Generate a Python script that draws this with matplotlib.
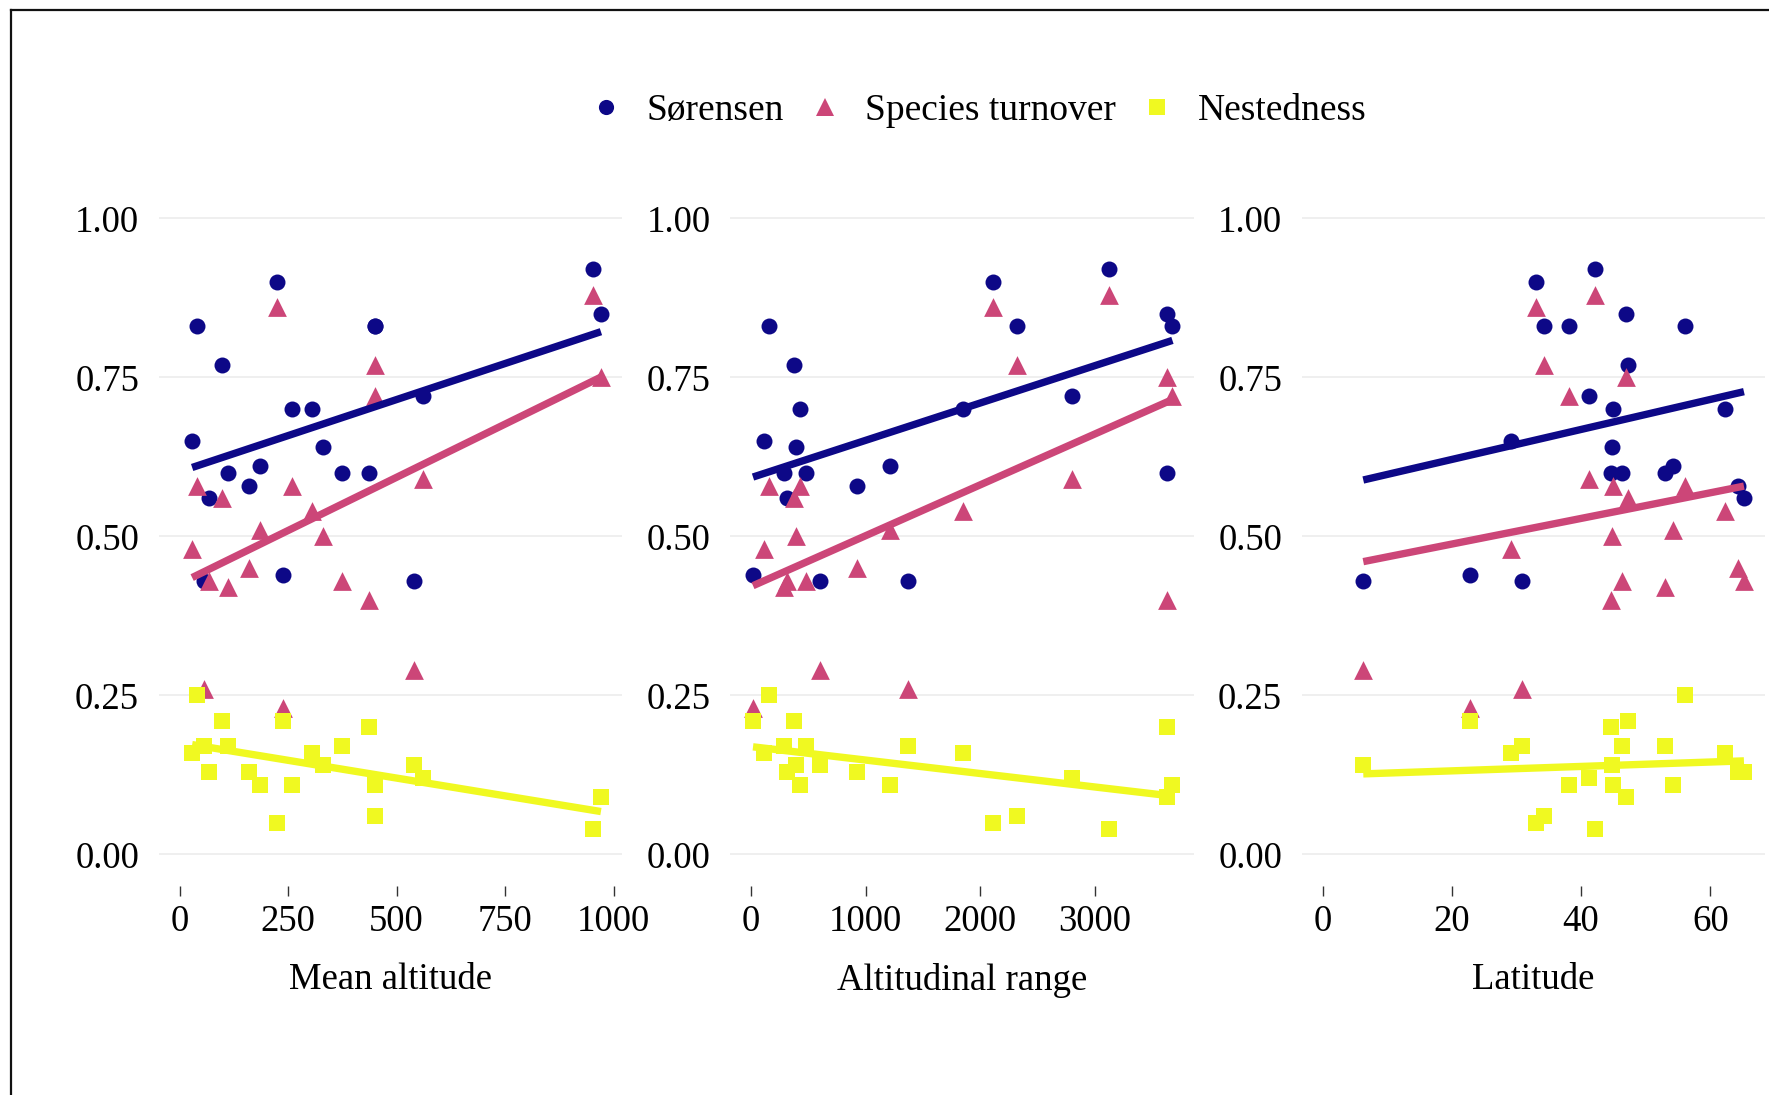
import matplotlib
matplotlib.use('Agg')
import matplotlib.pyplot as plt
import numpy as np
from matplotlib.lines import Line2D

plt.rcParams['font.family'] = ['Liberation Serif', 'DejaVu Serif']

# ---- data (one row per site) ----
mean_altitude = [952, 225, 971, 41, 451, 451, 98, 562, 260, 306, 29, 331, 186, 112, 375, 437, 161, 68, 239, 57, 541]
altitudinal_range = [3127, 2113, 3633, 157, 2323, 3677, 376, 2803, 428, 1852, 114, 393, 1214, 288, 480, 3633, 926, 314, 17, 1371, 603]
latitude = [42.1, 33.1, 46.9, 56.1, 34.2, 38.2, 47.3, 41.2, 44.9, 62.3, 29.1, 44.8, 54.2, 53.0, 46.4, 44.6, 64.3, 65.2, 22.8, 30.8, 6.3]
sorensen = [0.92, 0.90, 0.85, 0.83, 0.83, 0.83, 0.77, 0.72, 0.70, 0.70, 0.65, 0.64, 0.61, 0.60, 0.60, 0.60, 0.58, 0.56, 0.44, 0.43, 0.43]
turnover = [0.88, 0.86, 0.75, 0.58, 0.77, 0.72, 0.56, 0.59, 0.58, 0.54, 0.48, 0.50, 0.51, 0.42, 0.43, 0.40, 0.45, 0.43, 0.23, 0.26, 0.29]
nestedness = [0.04, 0.05, 0.09, 0.25, 0.06, 0.11, 0.21, 0.12, 0.11, 0.16, 0.16, 0.14, 0.11, 0.17, 0.17, 0.20, 0.13, 0.13, 0.21, 0.17, 0.14]

panel_titles = ["Mean altitude", "Altitudinal range", "Latitude"]
panel_x = [mean_altitude, altitudinal_range, latitude]
x_ticks = [[0, 250, 500, 750, 1000], [0, 1000, 2000, 3000], [0, 20, 40, 60]]
y_ticks = [0.00, 0.25, 0.50, 0.75, 1.00]
y_tick_labels = ["0.00", "0.25", "0.50", "0.75", "1.00"]

series_names = ["Sørensen", "Species turnover", "Nestedness"]
series_values = [sorensen, turnover, nestedness]
series_colors = ["#0D0887", "#CC4678", "#F0F921"]
series_markers = ["o", "^", "s"]
series_sizes = [11.5, 13.5, 11.5]

W, H = 1769, 1095
fig = plt.figure(figsize=(W / 100, H / 100), dpi=100)
fig.patch.set_facecolor('white')

FS = 26.5
LFS = 27.0
panel_left_px = [158.5, 730.0, 1301.5]
panel_w_px = 463.5
panel_top_px = 186.5
panel_bot_px = 886.3

for i in range(3):
    ax = fig.add_axes([panel_left_px[i] / W, 1 - panel_bot_px / H,
                       panel_w_px / W, (panel_bot_px - panel_top_px) / H])
    x = np.array(panel_x[i], dtype=float)
    for name, vals, col, mk, ms in zip(series_names, series_values, series_colors,
                                        series_markers, series_sizes):
        ax.scatter(x, vals, s=ms ** 2, marker=mk, color=col, linewidths=0, zorder=3)
    for name, vals, col in zip(series_names, series_values, series_colors):
        k, b = np.polyfit(x, np.array(vals), 1)
        xs = np.array([x.min(), x.max()])
        ax.plot(xs, k * xs + b, color=col, lw=5.3, solid_capstyle='butt', zorder=4)
    lo = min(0.0, x.min())
    hi = x.max()
    pad = 0.05 * (hi - lo)
    ax.set_xlim(lo - pad, hi + pad)
    ax.set_ylim(-0.05, 1.05)
    ax.set_xticks(x_ticks[i])
    ax.set_xticklabels([str(t) for t in x_ticks[i]])
    ax.set_yticks(y_ticks)
    ax.set_yticklabels(y_tick_labels)
    for s in ax.spines.values():
        s.set_visible(False)
    ax.grid(axis='y', color='#EBEBEB', lw=1.1, zorder=0)
    ax.grid(axis='x', visible=False)
    ax.set_axisbelow(True)
    ax.tick_params(axis='x', direction='out', length=7, width=1.0, color='#333333',
                   labelsize=FS, pad=6, labelcolor='black')
    ax.tick_params(axis='y', length=0, labelsize=FS, pad=14, labelcolor='black')
    ax.set_facecolor('none')
    cx = (panel_left_px[i] + panel_w_px / 2) / W
    fig.text(cx, 1 - 980 / H, panel_titles[i], ha='center', va='center',
             fontsize=FS, color='black')

handles = [Line2D([], [], linestyle='none', marker=mk, color=col, markersize=ms * 0.95,
                  markeredgewidth=0)
           for mk, col, ms in zip(series_markers, series_colors, series_sizes)]
fig.legend(handles, series_names, loc='center', ncol=3,
           bbox_to_anchor=(977 / W, 1 - 111 / H), frameon=False, fontsize=LFS,
           handlelength=1.0, handletextpad=0.57, columnspacing=0.6,
           borderpad=0, borderaxespad=0)

# frame lines (left and top) of the original figure
fig.add_artist(Line2D([11 / W, 11 / W], [0, 1 - 10 / H], transform=fig.transFigure,
                      color='#111111', lw=1.6))
fig.add_artist(Line2D([11 / W, 1], [1 - 10 / H, 1 - 10 / H], transform=fig.transFigure,
                      color='#111111', lw=1.6))

fig.savefig('out.png', dpi=100, facecolor='white')
